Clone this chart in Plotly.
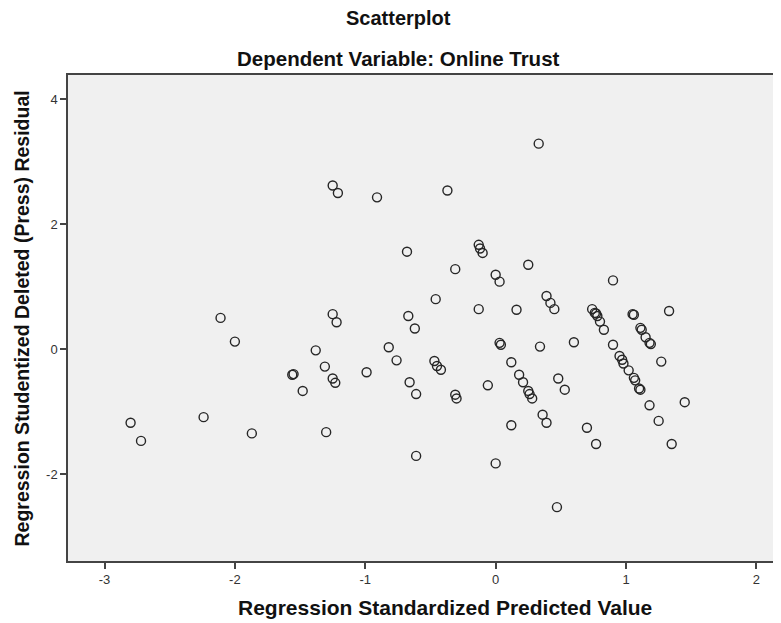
import plotly.graph_objects as go

title_text = "Scatterplot"
subtitle_text = "Dependent Variable: Online Trust"
x_title = "Regression Standardized Predicted Value"
y_title = "Regression Studentized Deleted (Press) Residual"

predicted = [
    -2.80, -2.72, -2.24, -1.87, -2.11, -2.00, -1.38, -1.56, -1.55, -1.48,
    0.33, -1.25, -1.21, -0.91, -0.37, -0.68, -0.13, -0.12, -0.10, -0.31,
    0.25, 0.00, 0.03, -0.46, 0.39, 0.42, 0.45, -0.13, 0.16, -1.25,
    -1.22, -0.67, -0.62, -0.82, 0.03, 0.04, 0.34, 0.60, -1.31, -1.25,
    -1.23, -0.99, -0.76, -0.47, -0.45, -0.42, -0.66, -0.61, -0.31, -0.30,
    -0.06, 0.12, 0.18, 0.21, 0.25, 0.26, 0.28, 0.48, 0.53, 0.36,
    0.39, 0.12, 0.70, 0.77, -1.30, -0.61, 0.00, 0.47, 0.90, 0.74,
    0.76, 0.77, 0.78, 0.80, 0.83, 1.05, 1.06, 1.33, 1.11, 1.12,
    1.15, 1.18, 1.19, 0.90, 0.95, 0.97, 0.98, 1.02, 1.06, 1.07,
    1.10, 1.11, 1.27, 1.18, 1.45, 1.25, 1.35,
]
residual = [
    -1.18, -1.47, -1.09, -1.35, 0.50, 0.12, -0.02, -0.41, -0.40, -0.67,
    3.29, 2.62, 2.50, 2.43, 2.54, 1.56, 1.67, 1.61, 1.54, 1.28,
    1.35, 1.19, 1.08, 0.80, 0.85, 0.74, 0.64, 0.64, 0.63, 0.56,
    0.43, 0.53, 0.33, 0.03, 0.10, 0.07, 0.04, 0.11, -0.28, -0.47,
    -0.54, -0.37, -0.18, -0.19, -0.27, -0.33, -0.53, -0.72, -0.73, -0.79,
    -0.58, -0.21, -0.41, -0.53, -0.67, -0.72, -0.79, -0.47, -0.65, -1.05,
    -1.18, -1.22, -1.26, -1.52, -1.33, -1.71, -1.83, -2.53, 1.10, 0.64,
    0.58, 0.57, 0.53, 0.44, 0.31, 0.56, 0.55, 0.61, 0.34, 0.31,
    0.19, 0.10, 0.08, 0.07, -0.11, -0.17, -0.23, -0.34, -0.46, -0.50,
    -0.63, -0.65, -0.20, -0.90, -0.85, -1.15, -1.52,
]

x_ticks = [-3, -2, -1, 0, 1, 2]
y_ticks = [-2, 0, 2, 4]

# page has an 8px body margin; size figure to fit
W, H = 773, 615
ML, MR, MT, MB = 60, 8, 67, 62
OFF = 8


def px(xp):
    return (xp - OFF - ML) / (W - ML - MR)


def py(yp):
    return ((H - MB) - (yp - OFF)) / (H - MT - MB)


fig = go.Figure()
fig.add_trace(go.Scatter(
    x=predicted, y=residual, mode="markers",
    marker=dict(symbol="circle-open", size=9, color="#262626",
                line=dict(width=1.4, color="#262626")),
    showlegend=False, hoverinfo="x+y",
))

axis_common = dict(
    showgrid=False, zeroline=False, showline=True, linecolor="#444444",
    linewidth=1.5, mirror=True, ticks="outside", ticklen=6, tickwidth=1.5,
    tickcolor="#444444", automargin=False,
    tickfont=dict(family="Liberation Sans, Arial", size=13, color="#333333"),
)

fig.update_layout(
    width=W, height=H,
    margin=dict(l=ML, r=MR, t=MT, b=MB),
    paper_bgcolor="white", plot_bgcolor="#f0f0f0",
    font=dict(family="Liberation Sans, Arial", color="#111111"),
    xaxis=dict(range=[-3.28, 2.127], tickvals=x_ticks, ticktext=[str(v) for v in x_ticks],
               **axis_common),
    yaxis=dict(range=[-3.393, 4.389], tickvals=y_ticks, ticktext=[str(v) for v in y_ticks],
               **axis_common),
    annotations=[
        dict(text="<b>" + title_text + "</b>", x=px(398), y=py(18), xref="paper", yref="paper",
             showarrow=False, font=dict(size=20), xanchor="center", yanchor="middle"),
        dict(text="<b>" + subtitle_text + "</b>", x=px(398.5), y=py(59), xref="paper", yref="paper",
             showarrow=False, font=dict(size=20.5), xanchor="center", yanchor="middle"),
        dict(text="<b>" + x_title + "</b>", x=px(445), y=py(607), xref="paper", yref="paper",
             showarrow=False, font=dict(size=21), xanchor="center", yanchor="middle"),
        dict(text="<b>" + y_title + "</b>", x=px(21.5), y=py(319), xref="paper", yref="paper",
             showarrow=False, font=dict(size=19.5), textangle=-90,
             xanchor="center", yanchor="middle"),
    ],
)

fig.write_html("out.html")
